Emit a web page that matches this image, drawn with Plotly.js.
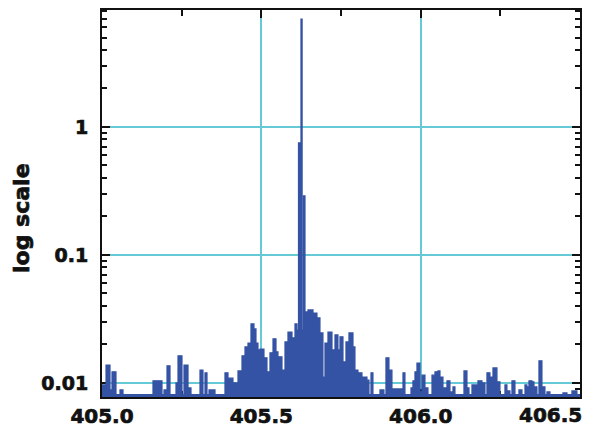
<!DOCTYPE html>
<html>
<head>
<meta charset="utf-8">
<script src="https://cdn.plot.ly/plotly-3.0.1.min.js"></script>
<style>
html,body{margin:0;padding:0;background:#fff;}
#chart{width:612px;height:434px;}
#chart .xtick text, #chart .ytick text, #chart .annotation-text {stroke:#111; stroke-width:0.7px;}
</style>
</head>
<body>
<div id="chart"></div>
<script>
// Frequency (step start positions)
const freq = [
  405.000, 405.0126, 405.0251, 405.0314, 405.0439, 405.0565, 405.0659, 405.1600, 405.1883, 405.1945,
  405.2040, 405.2134, 405.2322, 405.2385, 405.2510, 405.2573, 405.2699, 405.2730, 405.2793, 405.3075,
  405.3169, 405.3232, 405.3295, 405.3357, 405.3546, 405.3859, 405.3954, 405.3985, 405.4110, 405.4267,
  405.4393, 405.4487, 405.4581, 405.4675, 405.4769, 405.4832, 405.4895, 405.4958, 405.5083, 405.5177,
  405.5271, 405.5366, 405.5460, 405.5522, 405.5648, 405.5742, 405.5836, 405.5962, 405.6056, 405.6119,
  405.6166, 405.6244, 405.6280, 405.6323, 405.6370, 405.6464, 405.6621, 405.6746, 405.6840, 405.6934,
  405.6997, 405.7091, 405.7217, 405.7311, 405.7405, 405.7468, 405.7562, 405.7656, 405.7750, 405.7876,
  405.7938, 405.8033, 405.8158, 405.8315, 405.8378, 405.8441, 405.8503, 405.8723, 405.8848, 405.8911,
  405.9005, 405.9099, 405.9413, 405.9445, 405.9507, 405.9696, 405.9758, 405.9821, 405.9884, 405.9978,
  406.0041, 406.0135, 406.0229, 406.0355, 406.0449, 406.0543, 406.0606, 406.0700, 406.0825, 406.0919,
  406.1014, 406.1076, 406.1359, 406.1453, 406.1516, 406.1610, 406.1672, 406.1704, 406.1767, 406.1798,
  406.1923, 406.2018, 406.2080, 406.2174, 406.2269, 406.2394, 406.2488, 406.2645, 406.2708, 406.2802,
  406.2865, 406.2959, 406.3084, 406.3179, 406.3273, 406.3335, 406.3398, 406.3492, 406.3555, 406.3586,
  406.3649, 406.3712, 406.3806, 406.3900, 406.3963, 406.4057, 406.4465, 406.4591, 406.4747, 406.4904,
  406.4998
];
// Intensity (log scale)
const intensity = [
  0.00965, 0.0138, 0.00882, 0.0122, 0.0081, 0.00882, 0.0081, 0.0104, 0.0081, 0.00882,
  0.0136, 0.0081, 0.0100, 0.0163, 0.0081, 0.0138, 0.0081, 0.00914, 0.0081, 0.0126,
  0.0081, 0.0120, 0.0081, 0.00882, 0.0081, 0.0120, 0.0081, 0.0109, 0.0100, 0.0124,
  0.0163, 0.0191, 0.0205, 0.0289, 0.0264, 0.0205, 0.0181, 0.0184, 0.0157, 0.0122,
  0.0172, 0.0221, 0.0175, 0.0160, 0.0126, 0.0209, 0.0250, 0.0225, 0.0289, 0.0259,
  0.750, 6.98, 0.0259, 0.289, 0.0359, 0.0372, 0.0352, 0.0322, 0.0246, 0.0111,
  0.0205, 0.0250, 0.0181, 0.0237, 0.0181, 0.0229, 0.0146, 0.0209, 0.0246, 0.0191,
  0.0126, 0.0120, 0.0111, 0.0105, 0.0081, 0.0120, 0.0081, 0.00882, 0.0081, 0.0157,
  0.0126, 0.00898, 0.0081, 0.0120, 0.0081, 0.00914, 0.0104, 0.0122, 0.0143, 0.00851,
  0.0115, 0.00914, 0.0081, 0.0115, 0.0122, 0.0124, 0.0111, 0.00914, 0.0104, 0.00851,
  0.00931, 0.0081, 0.0124, 0.00914, 0.0081, 0.00965, 0.0081, 0.00965, 0.0081, 0.0104,
  0.0100, 0.0081, 0.0120, 0.0111, 0.0131, 0.0102, 0.0081, 0.00965, 0.00866, 0.0081,
  0.0104, 0.0081, 0.00882, 0.0081, 0.00965, 0.00931, 0.0104, 0.0102, 0.0081, 0.00931,
  0.0081, 0.0149, 0.00931, 0.0081, 0.00851, 0.0081, 0.00836, 0.0081, 0.00866, 0.0081,
  0.0081
];
const xTickVals = [405.0, 405.5, 406.0, 406.5];
const xTickText = ['405.0', '405.5', '406.0', '406.5'];
const yTickVals = [0.01, 0.1, 1];
const yTickText = ['0.01', '0.1', '1'];
const yTitle = 'log scale';

const blue = '#3553a4';
const grid = '#66c9d6';
const fontFam = 'DejaVu Sans, Liberation Sans, sans-serif';

const trace = {
  x: freq, y: intensity, type: 'scatter', mode: 'lines',
  line: {shape: 'hv', color: blue, width: 1.2},
  fill: 'tozeroy', fillcolor: blue, hoverinfo: 'skip'
};

const layout = {
  width: 612, height: 434,
  margin: {l: 102, r: 32, t: 10, b: 37},
  paper_bgcolor: '#fff', plot_bgcolor: '#fff',
  showlegend: false,
  font: {family: fontFam, color: '#111', weight: 'bold'},
  xaxis: {
    range: [405.0, 406.5], tickmode: 'array', tickvals: xTickVals,
    ticktext: xTickText.map((t, i) => i === xTickText.length - 1 ? '' : t),
    tickfont: {size: 20, family: fontFam, weight: 'bold', color: '#111'},
    ticks: 'inside', ticklen: 8, tickwidth: 2, tickcolor: '#111',
    showline: true, linecolor: '#111', linewidth: 2, mirror: 'ticks',
    showgrid: true, gridcolor: grid, gridwidth: 2, zeroline: false,
    layer: 'below traces',
    minor: {dtick: 0.25, tick0: 405, ticks: 'inside', ticklen: 6, tickwidth: 2, tickcolor: '#111', showgrid: false}
  },
  yaxis: {
    type: 'log', range: [-2.11, 0.914], tickmode: 'array', tickvals: yTickVals, ticktext: yTickText,
    tickfont: {size: 19, family: fontFam, weight: 'bold', color: '#111'},
    ticks: 'inside', ticklen: 8, tickwidth: 2, tickcolor: '#111', ticklabelstandoff: 8,
    showline: true, linecolor: '#111', linewidth: 2, mirror: 'ticks',
    showgrid: true, gridcolor: grid, gridwidth: 2, zeroline: false,
    layer: 'below traces',
    minor: {dtick: 'D1', ticks: 'inside', ticklen: 5, tickwidth: 2, tickcolor: '#111', showgrid: false}
  },
  annotations: [{
    x: xTickVals[3], y: 0, xref: 'x', yref: 'paper', xanchor: 'right', yanchor: 'top',
    text: xTickText[3], showarrow: false, xshift: 4, yshift: -4,
    font: {size: 20, family: fontFam, weight: 'bold', color: '#111'}
  }, {
    x: -0.17, y: 0.462, xref: 'paper', yref: 'paper', xanchor: 'center', yanchor: 'middle',
    text: yTitle, textangle: -90, showarrow: false,
    font: {size: 22, family: fontFam, weight: 'bold', color: '#111'}
  }]
};

Plotly.newPlot('chart', [trace], layout, {displayModeBar: false, staticPlot: true});
</script>
</body>
</html>
